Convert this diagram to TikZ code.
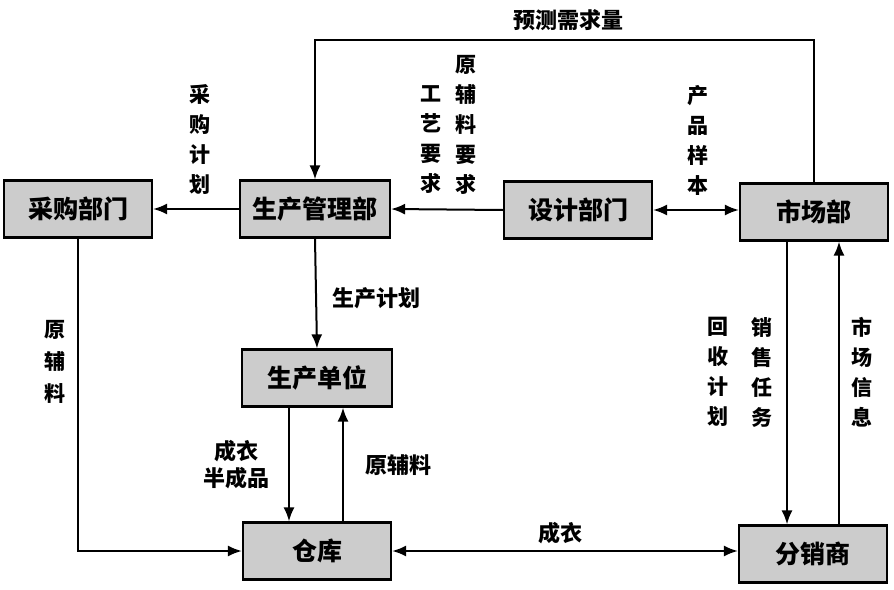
\documentclass[tikz,border=0pt]{standalone}
\usepackage{fontspec}
\newfontfamily\cjk{Noto Sans CJK SC}
\usetikzlibrary{arrows.meta}
\begin{document}
\begin{tikzpicture}[x=1pt,y=-1pt,
  box/.style={draw=black,line width=2.2pt,fill=gray!40,minimum width=148pt,minimum height=57pt,inner sep=0pt,font=\cjk\bfseries\fontsize{25}{28}\selectfont},
  arr/.style={line width=2pt,-{Latex[length=14pt,width=11pt]}},
  darr/.style={line width=2pt,{Latex[length=14pt,width=11pt]}-{Latex[length=14pt,width=11pt]}},
  lab/.style={font=\cjk\bfseries\fontsize{22}{27}\selectfont,align=center,inner sep=0pt},
  vlab/.style={font=\cjk\bfseries\fontsize{21}{30}\selectfont,align=center,inner sep=0pt}]
\useasboundingbox (0,0) rectangle (894,589);
% boxes
\node[box] (cg) at (78,209) {采购部门};
\node[box,minimum width=150pt] (scgl) at (315,209) {生产管理部};
\node[box] (sj) at (578,210) {设计部门};
\node[box] (sc) at (814,212) {市场部};
\node[box,minimum width=150pt] (scdw) at (317,378) {生产单位};
\node[box] (ck) at (317,551) {仓库};
\node[box] (fx) at (813,554) {分销商};
% connectors
\coordinate (top) at (570,40);
\draw[arr] (sc.north) |- (top) -| (scgl.north);
\draw[arr] (scgl.west) -- (cg.east);
\draw[arr] (sj.west) -- (scgl.east);
\draw[darr] (sj.east) -- (sc.west |- sj.east);
\draw[arr] (scgl.south) -- (scdw.north);
\draw[arr] (cg.south) |- (ck.west);
\draw[arr] ([xshift=-28pt]scdw.south) -- ([xshift=-28pt]ck.north);
\draw[arr] ([xshift=26pt]ck.north) -- ([xshift=26pt]scdw.south);
\draw[darr] (ck.east) -- (fx.west |- ck.east);
\draw[arr] ([xshift=-27pt]sc.south) -- ([xshift=-26pt]fx.north);
\draw[arr] ([xshift=26pt]fx.north) -- ([xshift=25pt]sc.south);
% labels
\node[lab] (l1) at (568,20) {预测需求量};
\node[vlab] (l2) at (200,140) {采\\购\\计\\划};
\node[vlab] (l3) at (466,125) {原\\辅\\料\\要\\求};
\node[vlab] (l4) at (431,140) {工\\艺\\要\\求};
\node[vlab] (l5) at (698,140) {产\\品\\样\\本};
\node[lab] (l6) at (376,298) {生产计划};
\node[vlab,font=\cjk\bfseries\fontsize{21}{32}\selectfont] (l7) at (55,362) {原\\辅\\料};
\node[lab] (l8) at (236,465) {成衣\\半成品};
\node[lab] (l9) at (398,465) {原辅料};
\node[lab] (l10) at (560,533) {成衣};
\node[vlab] (l11) at (718,372) {回\\收\\计\\划};
\node[vlab] (l12) at (762,372) {销\\售\\任\\务};
\node[vlab] (l13) at (862,372) {市\\场\\信\\息};
\end{tikzpicture}
\end{document}
